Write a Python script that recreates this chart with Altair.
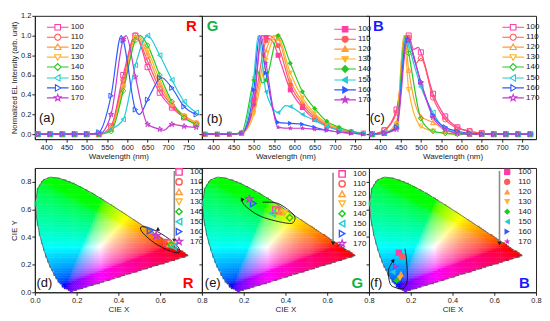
import altair as alt
import numpy as np
import pandas as pd

alt.data_transformers.disable_max_rows()

FONT = "Liberation Sans"
SERIES = ["100", "110", "120", "130", "140", "150", "160", "170"]
COLORS = ["#ff3ea5", "#ff5b5b", "#ff9c3a", "#ffb52b", "#22c922", "#22ccd6", "#2d5bff", "#c63bd0"]
WL = [380, 410, 440, 470, 500, 530, 560, 590, 620, 650, 680, 710, 740, 770]

# ---- panel (a) R spectra: values at marker wavelengths + extra line points
R_MARK = {
    "100": [0, 0, 0, 0, 0, 0, 0.08, 0.60, 1.00, 0.68, 0.42, 0.27, 0.17, 0.10],
    "110": [0, 0, 0, 0, 0, 0, 0.07, 0.55, 1.00, 0.74, 0.46, 0.29, 0.18, 0.11],
    "120": [0, 0, 0, 0, 0, 0, 0.06, 0.50, 0.99, 0.80, 0.50, 0.31, 0.19, 0.12],
    "130": [0, 0, 0, 0, 0, 0, 0.05, 0.47, 0.97, 0.85, 0.55, 0.31, 0.18, 0.11],
    "140": [0, 0, 0, 0, 0, 0, 0.03, 0.44, 0.95, 0.90, 0.60, 0.33, 0.17, 0.10],
    "150": [0, 0, 0, 0, 0, 0, 0.05, 0.15, 0.70, 1.00, 0.80, 0.55, 0.33, 0.22],
    "160": [0, 0, 0, 0, 0, 0.02, 0.39, 0.95, 0.25, 0.35, 0.57, 0.47, 0.28, 0.20],
    "170": [0, 0, 0, 0, 0, 0, 0.20, 0.96, 0.58, 0.10, 0.05, 0.10, 0.08, 0.07],
}
R_EXTRA = {
    "120": [[624, 1.0]], "130": [[627, 1.0]], "140": [[632, 1.0]],
    "160": [[585, 1.0], [630, 0.2], [682, 0.58]], "170": [[597, 1.0], [690, 0.04]],
}
# ---- panel (b) G spectra
G_MARK = {
    "100": [0, 0, 0, 0.01, 0.35, 0.98, 0.80, 0.45, 0.27, 0.15, 0.08, 0.04, 0.02, 0.01],
    "110": [0, 0, 0, 0.01, 0.30, 0.95, 0.90, 0.50, 0.30, 0.17, 0.09, 0.05, 0.02, 0.01],
    "120": [0, 0, 0, 0.01, 0.25, 0.85, 0.97, 0.55, 0.33, 0.19, 0.10, 0.05, 0.03, 0.01],
    "130": [0, 0, 0, 0.01, 0.20, 0.75, 0.99, 0.62, 0.37, 0.21, 0.11, 0.06, 0.03, 0.01],
    "140": [0, 0, 0, 0.02, 0.55, 0.55, 1.00, 0.72, 0.43, 0.26, 0.13, 0.07, 0.03, 0.01],
    "150": [0, 0, 0, 0.01, 0.58, 0.43, 0.22, 0.28, 0.20, 0.14, 0.08, 0.04, 0.02, 0.01],
    "160": [0, 0, 0, 0.01, 0.45, 0.62, 0.12, 0.11, 0.10, 0.07, 0.04, 0.02, 0.01, 0.00],
    "170": [0, 0, 0, 0.01, 0.30, 0.72, 0.07, 0.06, 0.06, 0.05, 0.04, 0.02, 0.01, 0.00],
}
G_EXTRA = {
    "100": [[521, 1.0], [545, 0.95]], "110": [[538, 1.0]], "120": [[550, 1.0]],
    "130": [[555, 1.0]], "140": [[508, 0.65], [521, 0.52]],
    "150": [[511, 1.0], [578, 0.29]], "160": [[514, 1.0]], "170": [[518, 1.0]],
}
# ---- panel (c) B spectra
B_MARK = {
    "100": [0, 0.04, 0.25, 1.00, 0.83, 0.41, 0.18, 0.07, 0.03, 0.01, 0, 0, 0, 0],
    "110": [0, 0.04, 0.22, 0.98, 0.77, 0.37, 0.15, 0.06, 0.03, 0.01, 0, 0, 0, 0],
    "120": [0, 0.01, 0.12, 0.65, 0.18, 0.12, 0.04, 0.01, 0, 0, 0, 0, 0, 0],
    "130": [0, 0.01, 0.10, 0.45, 0.08, 0.03, 0.01, 0, 0, 0, 0, 0, 0, 0],
    "140": [0, 0.01, 0.08, 0.82, 0.16, 0.03, 0.01, 0, 0, 0, 0, 0, 0, 0],
    "150": [0, 0.01, 0.07, 0.90, 0.48, 0.22, 0.05, 0.02, 0, 0, 0, 0, 0, 0],
    "160": [0, 0.01, 0.07, 0.95, 0.53, 0.19, 0.07, 0.03, 0.01, 0, 0, 0, 0, 0],
    "170": [0, 0.01, 0.05, 0.95, 0.52, 0.17, 0.05, 0.01, 0, 0, 0, 0, 0, 0],
}
B_EXTRA = {
    "100": [[482, 0.86], [494, 0.88]], "110": [[466, 1.0], [488, 0.72]],
    "120": [[459, 1.0], [488, 0.28]], "130": [[458, 1.0]], "140": [[461, 1.0]],
    "150": [[463, 1.0]], "160": [[465, 1.0]], "170": [[467, 0.97]],
}

# ---- CIE 1931 spectral locus
LOCUS_X = [0.1741, 0.1740, 0.1738, 0.1736, 0.1733, 0.1730, 0.1726, 0.1721, 0.1714, 0.1703,
           0.1689, 0.1669, 0.1644, 0.1611, 0.1566, 0.1510, 0.1440, 0.1355, 0.1241, 0.1096,
           0.0913, 0.0687, 0.0454, 0.0235, 0.0082, 0.0039, 0.0139, 0.0389, 0.0743, 0.1142,
           0.1547, 0.1929, 0.2296, 0.2658, 0.3016, 0.3373, 0.3731, 0.4087, 0.4441, 0.4788,
           0.5125, 0.5448, 0.5752, 0.6029, 0.6270, 0.6482, 0.6658, 0.6801, 0.6915, 0.7006,
           0.7079, 0.7140, 0.7190, 0.7230, 0.7260, 0.7283, 0.7300, 0.7311, 0.7320, 0.7334,
           0.7344, 0.7347]
LOCUS_Y = [0.0050, 0.0050, 0.0049, 0.0049, 0.0048, 0.0048, 0.0048, 0.0048, 0.0051, 0.0058,
           0.0069, 0.0086, 0.0109, 0.0138, 0.0177, 0.0227, 0.0297, 0.0399, 0.0578, 0.0868,
           0.1327, 0.2007, 0.2950, 0.4127, 0.5384, 0.6548, 0.7502, 0.8120, 0.8338, 0.8262,
           0.8059, 0.7816, 0.7543, 0.7243, 0.6923, 0.6589, 0.6245, 0.5896, 0.5547, 0.5202,
           0.4866, 0.4544, 0.4242, 0.3965, 0.3725, 0.3514, 0.3340, 0.3197, 0.3083, 0.2993,
           0.2920, 0.2859, 0.2809, 0.2770, 0.2740, 0.2717, 0.2700, 0.2689, 0.2680, 0.2666,
           0.2656, 0.2653]

# ---- CIE coordinates of the devices
D_X = [0.632, 0.640, 0.648, 0.655, 0.652, 0.663, 0.552, 0.581]
D_Y = [0.360, 0.355, 0.350, 0.345, 0.343, 0.331, 0.446, 0.410]
E_X = [0.354, 0.366, 0.380, 0.394, 0.420, 0.338, 0.246, 0.227]
E_Y = [0.595, 0.590, 0.583, 0.575, 0.540, 0.571, 0.643, 0.675]
F_X = [0.143, 0.158, 0.153, 0.148, 0.133, 0.114, 0.128, 0.125]
F_Y = [0.286, 0.261, 0.135, 0.099, 0.086, 0.146, 0.187, 0.190]

# ---- hand-drawn annotation loops (data space)
D_LOOP_X = [0.692, 0.683, 0.625, 0.553, 0.508, 0.518, 0.575, 0.648]
D_LOOP_Y = [0.288, 0.333, 0.405, 0.463, 0.472, 0.428, 0.355, 0.298]
E_LOOP_X = [0.290, 0.364, 0.436, 0.443, 0.412, 0.286, 0.207, 0.191]
E_LOOP_Y = [0.652, 0.643, 0.567, 0.518, 0.499, 0.547, 0.626, 0.675]
F_LOOP_X = [0.172, 0.180, 0.183, 0.164, 0.125, 0.101, 0.093, 0.117]
F_LOOP_Y = [0.315, 0.230, 0.086, 0.027, 0.035, 0.063, 0.158, 0.230]
D_HEAD = [0.592, 0.452, 120]
E_HEAD = [0.191, 0.675, 330]
F_HEAD = [0.117, 0.230, 40]
D_GRAY = [0.668, 0.878, 0.374]
E_GRAY = [0.628, 0.866, 0.353]
F_GRAY = [0.625, 0.878, 0.353]

# ---- marker shapes
STAR_PTS = [(0, -1), (0.235, -0.324), (0.951, -0.309), (0.38, 0.124), (0.588, 0.809),
            (0, 0.4), (-0.588, 0.809), (-0.38, 0.124), (-0.951, -0.309), (-0.235, -0.324)]


def poly(pts, k=1.0):
    return "M" + "L".join(f"{x * k:.3f},{y * k:.3f}" for x, y in pts) + "Z"


SHAPES = ["square", "circle", "triangle-up", "triangle-down", "diamond",
          "triangle-left", "triangle-right", poly(STAR_PTS, 1.1)]

# legend symbols: marker + horizontal line arms (arms reach beyond the unit box)
ARM = 3.1
CIRC = [(0.88 * np.cos(t), 0.88 * np.sin(t)) for t in np.linspace(0, 2 * np.pi, 15)[:-1]]
LEG_MARKERS = [
    ([(-0.8, -0.8), (0.8, -0.8), (0.8, 0.8), (-0.8, 0.8)], 0.8, 0.8),
    (CIRC, 0.88, 0.88),
    ([(0, -0.92), (0.92, 0.66), (-0.92, 0.66)], 0.54, 0.54),
    ([(0, 0.92), (0.92, -0.66), (-0.92, -0.66)], 0.54, 0.54),
    ([(0, -0.98), (0.98, 0), (0, 0.98), (-0.98, 0)], 0.98, 0.98),
    ([(-0.92, 0), (0.66, -0.92), (0.66, 0.92)], 0.92, 0.66),
    ([(0.92, 0), (-0.66, -0.92), (-0.66, 0.92)], 0.66, 0.92),
    (STAR_PTS, 0.4, 0.4),
]
LEG_SHAPES = [f"M{-ARM},0H{-a:.2f}M{b:.2f},0H{ARM}" + poly(p) for p, a, b in LEG_MARKERS]

# ---- colour fill of the chromaticity diagram
def inside(px, py, vx, vy):
    res = np.zeros(px.shape, dtype=bool)
    n = len(vx)
    j = n - 1
    for i in range(n):
        xi, yi, xj, yj = vx[i], vy[i], vx[j], vy[j]
        cond = ((yi > py) != (yj > py)) & (px < (xj - xi) * (py - yi) / (yj - yi + 1e-12) + xi)
        res ^= cond
        j = i
    return res


gx, gy = np.meshgrid(np.arange(0.005, 0.8, 0.01), np.arange(0.006, 0.9, 0.012))
gx, gy = gx.ravel(), gy.ravel()
m = inside(gx, gy, np.array(LOCUS_X), np.array(LOCUS_Y))
cx, cy = gx[m], gy[m]
X = cx / cy
Z = (1 - cx - cy) / cy
r = 3.2406 * X - 1.5372 - 0.4986 * Z
g = -0.9689 * X + 1.8758 + 0.0415 * Z
b = 0.0557 * X - 0.2040 + 1.0570 * Z
rgb = np.clip(np.stack([r, g, b], -1), 0, None)
rgb = rgb / rgb.max(axis=1, keepdims=True)
rgb = np.where(rgb <= 0.0031308, 12.92 * rgb, 1.055 * rgb ** (1 / 2.4) - 0.055)
hexes = ["#%02x%02x%02x" % tuple(int(round(v * 255)) for v in row) for row in rgb]
CELLS = pd.DataFrame({"x": cx - 0.0062, "x2": cx + 0.0062, "y": cy - 0.0074, "y2": cy + 0.0074, "c": hexes})
LOCUS = pd.DataFrame({"x": LOCUS_X + [LOCUS_X[0]], "y": LOCUS_Y + [LOCUS_Y[0]],
                      "i": list(range(len(LOCUS_X) + 1))})

CSCALE = alt.Scale(domain=SERIES, range=COLORS)
W, H_TOP, H_BOT = 168, 124, 125
LEG_SIZE = 49  # sqrt = 7 px -> unit = 3.5 px


def spectra_panel(marks, extra, filled, first, lx, ly, tag, tag_xy, letter, lcolor, letter_xy):
    pts_rows, line_rows = [], []
    for s in SERIES:
        for w, v in zip(WL, marks[s]):
            pts_rows.append({"s": s, "x": w, "y": v})
            line_rows.append({"s": s, "x": w, "y": v})
        for w, v in extra.get(s, []):
            line_rows.append({"s": s, "x": w, "y": v})
    dpts = pd.DataFrame(pts_rows)
    dline = pd.DataFrame(line_rows)
    xax = alt.Axis(values=list(range(400, 751, 50)), title="Wavelength (nm)", labelFlush=False)
    yvals = [0, 0.2, 0.4, 0.6, 0.8, 1.0, 1.2]
    if first:
        yax = alt.Axis(values=yvals, format=".1f", title="Normalized EL Intensity (arb. unit)",
                       titleFontSize=7.5)
    else:
        yax = alt.Axis(values=yvals, format=".1f", title=None, labels=False)
    x = alt.X("x:Q", scale=alt.Scale(domain=[372, 784], nice=False, zero=False), axis=xax)
    y = alt.Y("y:Q", scale=alt.Scale(domain=[-0.05, 1.2], nice=False, zero=False), axis=yax)
    line = alt.Chart(dline).mark_line(interpolate="monotone", strokeWidth=1.2).encode(
        x=x, y=y, color=alt.Color("s:N", scale=CSCALE, legend=None))
    pts = alt.Chart(dpts).mark_point(filled=filled, size=26, strokeWidth=1, opacity=1).encode(
        x=x, y=y, color=alt.Color("s:N", scale=CSCALE, legend=None),
        shape=alt.Shape("s:N", scale=alt.Scale(domain=SERIES, range=SHAPES), legend=None))
    L = alt.Legend(orient="none", legendX=lx + 9.5, legendY=ly, title=None, labelFont=FONT,
                   labelFontSize=8, labelColor="#222", symbolSize=LEG_SIZE, symbolStrokeWidth=1.1,
                   labelOffset=8.5, rowPadding=-2.9)
    enc = {"x": x, "y": y,
           "shape": alt.Shape("s:N", scale=alt.Scale(domain=SERIES, range=LEG_SHAPES), legend=L)}
    if filled:
        enc["fill"] = alt.Fill("s:N", scale=CSCALE, legend=L)
        enc["stroke"] = alt.Stroke("s:N", scale=CSCALE, legend=L)
        leg = alt.Chart(dpts).transform_filter("false").mark_point(opacity=1).encode(**enc)
    else:
        enc["color"] = alt.Color("s:N", scale=CSCALE, legend=L)
        leg = alt.Chart(dpts).transform_filter("false").mark_point(filled=False, opacity=1).encode(**enc)
    tdf = pd.DataFrame({"x": [tag_xy[0]], "y": [tag_xy[1]], "t": [tag]})
    tag_t = alt.Chart(tdf).mark_text(align="left", baseline="middle", font=FONT, fontSize=13,
                                     color="#111").encode(x=x, y=y, text="t:N")
    ldf = pd.DataFrame({"x": [letter_xy[0]], "y": [letter_xy[1]], "t": [letter]})
    let_t = alt.Chart(ldf).mark_text(align="center", baseline="middle", font=FONT, fontSize=15,
                                     fontWeight="bold", color=lcolor).encode(x=x, y=y, text="t:N")
    return alt.layer(line, pts, leg, tag_t, let_t).resolve_scale(
        color="independent", shape="independent", fill="independent", stroke="independent"
    ).properties(width=W, height=H_TOP)


def cie_panel(px, py, filled, first, lx, ly, rowpad, loop_x, loop_y, closed, head, gray,
              tag, tag_xy, letter, lcolor, letter_xy):
    xvals = [0, 0.2, 0.4, 0.6, 0.8] if first else [0.2, 0.4, 0.6, 0.8]
    xax = alt.Axis(values=xvals, format=".1f", title="CIE X", labelFlush=False)
    yvals = [0, 0.2, 0.4, 0.6, 0.8]
    if first:
        yax = alt.Axis(values=yvals, format=".1f", title="CIE Y")
    else:
        yax = alt.Axis(values=yvals, format=".1f", title=None, labels=False)
    x = alt.X("x:Q", scale=alt.Scale(domain=[0, 0.8], nice=False, zero=False), axis=xax)
    y = alt.Y("y:Q", scale=alt.Scale(domain=[0, 0.9], nice=False, zero=False), axis=yax)
    cells = alt.Chart(CELLS).mark_rect(strokeWidth=0).encode(
        x=x, x2=alt.X2("x2"), y=y, y2=alt.Y2("y2"), color=alt.Color("c:N", scale=None))
    locus = alt.Chart(LOCUS).mark_line(color="#555", strokeWidth=0.8).encode(
        x=x, y=y, order=alt.Order("i:Q"))
    loop_df = pd.DataFrame({"x": loop_x, "y": loop_y, "i": list(range(len(loop_x)))})
    loop = alt.Chart(loop_df).mark_line(
        color="#111", strokeWidth=0.9, interpolate="cardinal-closed" if closed else "cardinal"
    ).encode(x=x, y=y, order=alt.Order("i:Q"))
    head_df = pd.DataFrame({"x": [head[0]], "y": [head[1]], "a": [head[2]]})
    head_m = alt.Chart(head_df).mark_point(shape="triangle-up", filled=True, color="#111",
                                           size=18, opacity=1).encode(
        x=x, y=y, angle=alt.Angle("a:Q", scale=None))
    gdf = pd.DataFrame({"x": [gray[0]], "y": [gray[1]], "y2": [gray[2]]})
    grule = alt.Chart(gdf).mark_rule(color="#8c8c8c", strokeWidth=1.6).encode(
        x=x, y=y, y2=alt.Y2("y2"))
    gtip_df = pd.DataFrame({"x": [gray[0]], "y": [gray[2]]})
    gtip = alt.Chart(gtip_df).mark_point(shape="triangle-down", filled=True, color="#222",
                                         size=20, opacity=1).encode(x=x, y=y)
    dfp = pd.DataFrame({"s": SERIES, "x": px, "y": py})
    L = alt.Legend(orient="none", legendX=lx, legendY=ly, title=None, labelFont=FONT,
                   labelFontSize=8, labelColor="#222", symbolSize=40, symbolStrokeWidth=1.4,
                   labelOffset=7, rowPadding=rowpad)
    pts = alt.Chart(dfp).mark_point(filled=filled, size=42, strokeWidth=1.4, opacity=1).encode(
        x=x, y=y, color=alt.Color("s:N", scale=CSCALE, legend=L),
        shape=alt.Shape("s:N", scale=alt.Scale(domain=SERIES, range=SHAPES), legend=L))
    tdf = pd.DataFrame({"x": [tag_xy[0]], "y": [tag_xy[1]], "t": [tag]})
    tag_t = alt.Chart(tdf).mark_text(align="left", baseline="middle", font=FONT, fontSize=13,
                                     color="#111").encode(x=x, y=y, text="t:N")
    ldf = pd.DataFrame({"x": [letter_xy[0]], "y": [letter_xy[1]], "t": [letter]})
    let_t = alt.Chart(ldf).mark_text(align="center", baseline="middle", font=FONT, fontSize=15,
                                     fontWeight="bold", color=lcolor).encode(x=x, y=y, text="t:N")
    return alt.layer(cells, locus, loop, head_m, grule, gtip, pts, tag_t, let_t).properties(
        width=W, height=H_BOT)


pa = spectra_panel(R_MARK, R_EXTRA, False, True, 9, 7, "(a)", (382, 0.16), "R", "#ff0000", (758, 1.1))
pb = spectra_panel(G_MARK, G_EXTRA, True, False, 130, 9, "(b)", (384, 0.15), "G", "#12b04a", (398, 1.1))
pc = spectra_panel(B_MARK, B_EXTRA, False, False, 131, 7, "(c)", (374, 0.16), "B", "#1a1aff", (395, 1.1))
pd_ = cie_panel(D_X, D_Y, False, True, 141, 0, -3, D_LOOP_X, D_LOOP_Y, True, D_HEAD, D_GRAY,
                "(d)", (0.008, 0.065), "R", "#ff0000", (0.734, 0.07))
pe = cie_panel(E_X, E_Y, False, False, 137, 2, -3, E_LOOP_X, E_LOOP_Y, False, E_HEAD, E_GRAY,
               "(e)", (0.014, 0.065), "G", "#12b04a", (0.744, 0.07))
pf = cie_panel(F_X, F_Y, True, False, 135, 0, 2, F_LOOP_X, F_LOOP_Y, False, F_HEAD, F_GRAY,
               "(f)", (0.005, 0.065), "B", "#1a1aff", (0.744, 0.07))

chart = alt.concat(pa, pb, pc, pd_, pe, pf, columns=3, spacing={"row": 29, "column": 0},
                   bounds="flush").resolve_scale(
    color="independent", shape="independent", fill="independent", stroke="independent"
).resolve_legend(
    color="independent", shape="independent", fill="independent", stroke="independent"
).properties(
    padding={"left": 2, "top": 2, "right": 0, "bottom": 0}
).configure(font=FONT).configure_view(stroke="#222", strokeWidth=1).configure_axis(
    labelFont=FONT, titleFont=FONT, labelFontSize=7.5, titleFontSize=8, labelColor="#222",
    titleColor="#222", titleFontWeight="normal", tickSize=3, tickColor="#222",
    domainColor="#222", labelPadding=1, titlePadding=2, grid=False)

chart.save("out.html", embed_options={"renderer": "svg", "actions": False})
